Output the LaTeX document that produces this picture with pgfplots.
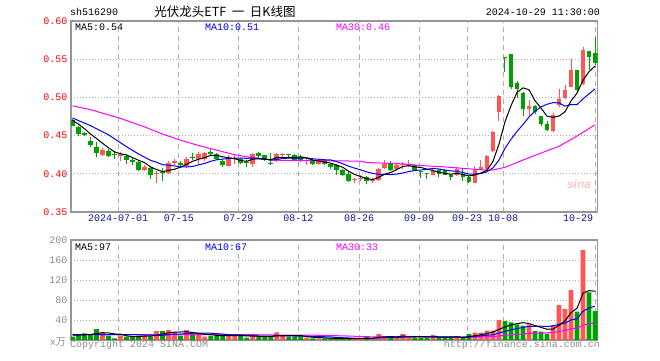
\documentclass[border=0pt]{standalone}
\usepackage{pgfplots}
\pgfplotsset{compat=1.18}
\usepackage{pgfplotstable}
\usepackage{fontspec}
\setmainfont{Liberation Mono}
\newfontfamily\mono{Liberation Mono}
\newfontfamily\cjk{Noto Sans CJK SC}
\newfontfamily\sans{Liberation Sans}
\definecolor{cred}{RGB}{255,85,85}
\definecolor{cgreen}{RGB}{0,160,0}
\definecolor{cmag}{RGB}{255,0,255}
\definecolor{cblue}{RGB}{0,0,255}
\definecolor{cgrid}{RGB}{175,175,175}
\definecolor{cframe}{RGB}{150,150,150}
\definecolor{clab}{RGB}{140,140,140}
\definecolor{cpred}{RGB}{255,0,0}
\definecolor{cdate}{RGB}{20,20,150}
\definecolor{cwm}{RGB}{250,200,200}

% i open high low close volume
\pgfplotstableread{
i o h l c v
5 0.4245 0.4333 0.4228 0.4316 15.3
8 0.4232 0.428 0.417 0.4259 8.7
12 0.4055 0.4117 0.4037 0.409 8.7
14 0.400 0.404 0.3877 0.4008 18
16 0.4017 0.4162 0.3995 0.4136 20
17 0.414 0.420 0.412 0.4167 15.3
19 0.4105 0.4223 0.4074 0.4193 20
21 0.419 0.428 0.412 0.4265 10
22 0.419 0.429 0.417 0.4277 6.7
26 0.4097 0.424 0.4097 0.421 10
27 0.4198 0.424 0.4123 0.421 8.7
30 0.4132 0.4272 0.4088 0.4255 8.7
34 0.4167 0.4272 0.4154 0.4263 15.3
35 0.4246 0.4277 0.421 0.4255 8.7
39 0.4167 0.4198 0.411 0.4176 4.7
41 0.4123 0.4198 0.411 0.4184 3.3
47 0.392 0.3947 0.3877 0.3925 2
48 0.3938 0.3978 0.3912 0.3947 3.3
50 0.3903 0.3943 0.3877 0.3925 3.3
51 0.3921 0.4079 0.3912 0.4066 12
52 0.4079 0.4184 0.4066 0.4132 6.7
54 0.4066 0.414 0.4035 0.411 4.7
55 0.411 0.4154 0.4066 0.4123 12
56 0.4101 0.4176 0.4088 0.411 6.7
60 0.3987 0.4079 0.3978 0.4035 10
64 0.3978 0.4088 0.3965 0.4066 6.7
67 0.3886 0.4097 0.3877 0.4053 14.7
68 0.4053 0.4184 0.4053 0.4084 14.7
69 0.4061 0.4246 0.4039 0.4237 18.7
70 0.4303 0.4566 0.429 0.4553 18.7
71 0.4807 0.5026 0.4697 0.5013 40
76 0.4851 0.4961 0.4741 0.4886 31.3
80 0.4566 0.4798 0.4544 0.4772 30
81 0.4895 0.5105 0.4873 0.4974 70
82 0.4991 0.5167 0.4982 0.5092 62
83 0.5136 0.5509 0.5136 0.5355 100
85 0.518 0.5662 0.5167 0.5618 180
}\redtab

\pgfplotstableread{
i o h l c v
0 0.4706 0.472 0.462 0.4632 6.7
1 0.461 0.462 0.449 0.452 11.3
2 0.4535 0.4545 0.449 0.451 13.3
3 0.4434 0.4487 0.4355 0.438 11.3
4 0.4355 0.441 0.4223 0.4267 22
6 0.430 0.4325 0.4215 0.4228 8.7
7 0.425 0.428 0.419 0.4245 3.3
9 0.4228 0.4258 0.4127 0.418 6.7
10 0.418 0.4215 0.411 0.415 6.7
11 0.416 0.418 0.404 0.405 8.7
13 0.4074 0.409 0.3938 0.398 6.7
15 0.402 0.4075 0.390 0.401 18
18 0.414 0.4162 0.408 0.4118 8.7
20 0.4223 0.4272 0.418 0.4206 11.3
23 0.4285 0.433 0.4228 0.4263 8.7
24 0.4255 0.4272 0.4176 0.4193 8.7
25 0.4167 0.419 0.4088 0.411 8.7
28 0.4189 0.4206 0.4123 0.4145 8.7
29 0.4154 0.4185 0.4088 0.414 4.7
31 0.4272 0.4285 0.421 0.4228 6.7
32 0.4241 0.4241 0.4167 0.4184 6.7
33 0.4128 0.4272 0.411 0.4123 6.7
36 0.4255 0.4263 0.421 0.4246 6.7
37 0.4241 0.4263 0.4176 0.4184 6.7
38 0.422 0.4241 0.4154 0.4167 6.7
40 0.4176 0.421 0.411 0.4123 3.3
42 0.4184 0.4198 0.411 0.4123 3.3
43 0.4123 0.4132 0.4066 0.4088 3.3
44 0.411 0.4123 0.3978 0.4044 3.3
45 0.4053 0.4066 0.3969 0.3987 3.3
46 0.400 0.4022 0.389 0.3912 2
49 0.3956 0.3965 0.3868 0.3912 6.7
53 0.414 0.4167 0.4035 0.4053 4.7
57 0.411 0.4123 0.4035 0.4053 4.7
58 0.4022 0.4035 0.3943 0.4018 4.7
59 0.4009 0.4009 0.3934 0.400 4.7
61 0.4044 0.4066 0.3956 0.3991 4.7
62 0.4044 0.4066 0.3978 0.3987 4.7
63 0.3978 0.400 0.392 0.3956 4.7
65 0.400 0.4066 0.3912 0.3958 4.7
66 0.3952 0.3974 0.3877 0.3895 12
72 0.5526 0.553 0.5333 0.552 38
73 0.5566 0.5566 0.5105 0.5136 35.3
74 0.5193 0.5211 0.4991 0.5105 31.3
75 0.5061 0.507 0.4763 0.4851 28.7
77 0.4886 0.4895 0.4785 0.4807 18
78 0.4754 0.4763 0.4632 0.4649 16.7
79 0.4649 0.4697 0.4566 0.4579 12.7
84 0.5355 0.5355 0.507 0.5092 56.7
86 0.5605 0.5605 0.5355 0.5531 95.3
87 0.5575 0.5794 0.543 0.5456 58
}\greentab

\pgfplotsset{
  skin/.style={
    scale only axis, width=526.5pt,
    xmin=-0.25, xmax=87.4,
    axis line style={draw=cframe, line width=1.2pt},
    tick style={draw=none},
    xmajorgrids, ymajorgrids,
    major x grid style={draw=cgrid, line width=1pt, dash pattern=on 5pt off 4pt},
    major y grid style={draw=cgrid, line width=1pt, dash pattern=on 1pt off 2pt},
    xtick={7.6,17.7,27.6,37.6,47.7,57.7,65.7,71.7,87},
    ticklabel style={font=\mono\fontsize{10}{12}\selectfont},
  },
  wick/.style={draw=none, mark=none, forget plot,
    error bars/.cd, y dir=plus, y explicit, error mark=none,
    error bar style={draw=#1, solid, line width=1pt}},
  body/.style={draw=none, mark=none, forget plot,
    error bars/.cd, y dir=plus, y explicit, error mark=none,
    error bar style={draw=#1, solid, line width=4.8pt}},
}

\begin{document}
\begin{tikzpicture}[x=1pt,y=1pt]
\path[use as bounding box] (0,0) rectangle (660,360);

% ---------- price panel ----------
\begin{axis}[skin,
  at={(71pt,148pt)}, anchor=south west, height=191pt,
  ymin=0.35, ymax=0.6,
  xticklabels={2024-07-01,07-15,07-29,08-12,08-26,09-09,09-23,10-08,{\hspace*{-34pt}10-29}},
  xticklabel style={text=cdate, yshift=1pt},
  ytick={0.35,0.40,0.45,0.50,0.55,0.60},
  yticklabels={0.35,0.40,0.45,0.50,0.55,0.60},
  yticklabel style={text=cpred},
]
% wicks
\addplot[wick=cred] table[x=i, y=l, y error plus expr=\thisrow{h}-\thisrow{l}] {\redtab};
\addplot[wick=cgreen] table[x=i, y=l, y error plus expr=\thisrow{h}-\thisrow{l}] {\greentab};
% bodies
\addplot[body=cred] table[x=i, y expr={min(\thisrow{o},\thisrow{c})}, y error plus expr={max(abs(\thisrow{c}-\thisrow{o}),0.0013)}] {\redtab};
\addplot[body=cgreen] table[x=i, y expr={min(\thisrow{o},\thisrow{c})}, y error plus expr={max(abs(\thisrow{c}-\thisrow{o}),0.0013)}] {\greentab};

% MA30
\addplot[cmag, line width=1pt] coordinates {
(0,0.489)(3,0.484)(8,0.4725)(12,0.4615)(15,0.452)(18,0.444)(21,0.437)(24,0.431)(27,0.425)(30,0.421)(33,0.418)(36,0.4175)(44,0.417)(48,0.4165)(49,0.4148)(55,0.413)(58,0.4108)(62,0.409)(66,0.4065)(69,0.4048)(70,0.405)(72,0.4085)(75,0.418)(78,0.4272)(81,0.436)(84,0.4495)(87,0.4642)};
% MA10
\addplot[cblue, line width=1pt] coordinates {
(0,0.473)(3,0.463)(6,0.451)(9,0.4354)(10,0.4306)(11,0.4259)(12,0.4217)(13,0.4177)(14,0.4151)(15,0.412)(16,0.4111)(17,0.4103)(18,0.4089)(19,0.409)(20,0.4096)(21,0.4117)(22,0.4136)(23,0.4164)(24,0.4183)(25,0.4193)(26,0.42)(27,0.4205)(28,0.4207)(29,0.4202)(30,0.4207)(31,0.4203)(32,0.4194)(33,0.418)(34,0.4187)(35,0.4201)(36,0.4205)(37,0.4202)(38,0.4205)(39,0.4208)(40,0.4195)(41,0.4191)(42,0.4184)(43,0.4181)(44,0.4159)(45,0.4132)(46,0.4099)(47,0.4073)(48,0.4051)(49,0.4025)(50,0.4005)(51,0.3993)(52,0.3994)(53,0.399)(54,0.3997)(55,0.4011)(56,0.403)(57,0.4043)(58,0.405)(59,0.4059)(60,0.407)(61,0.4063)(62,0.4048)(63,0.4038)(64,0.4034)(65,0.4017)(66,0.3996)(67,0.3996)(68,0.4003)(69,0.4026)(70,0.4078)(71,0.418)(72,0.4334)(73,0.4452)(74,0.4555)(75,0.4645)(76,0.4744)(77,0.4819)(78,0.4876)(79,0.491)(80,0.4932)(81,0.4928)(82,0.4885)(83,0.4907)(84,0.4906)(85,0.4982)(86,0.5047)(87,0.5112)};
% MA5
\addplot[black, line width=1pt] coordinates {
(0,0.470)(1,0.465)(2,0.459)(3,0.452)(4,0.4462)(5,0.4399)(6,0.434)(7,0.4287)(8,0.4263)(9,0.4246)(10,0.4212)(11,0.4177)(12,0.4146)(13,0.409)(14,0.4056)(15,0.4028)(16,0.4045)(17,0.406)(18,0.4088)(19,0.4125)(20,0.4164)(21,0.419)(22,0.4212)(23,0.4241)(24,0.4241)(25,0.4222)(26,0.4211)(27,0.4197)(28,0.4174)(29,0.4163)(30,0.4192)(31,0.4196)(32,0.419)(33,0.4186)(34,0.4211)(35,0.4211)(36,0.4214)(37,0.4214)(38,0.4223)(39,0.4206)(40,0.4179)(41,0.4167)(42,0.4155)(43,0.4139)(44,0.4112)(45,0.4085)(46,0.4031)(47,0.3991)(48,0.3963)(49,0.3937)(50,0.3924)(51,0.3955)(52,0.3996)(53,0.4018)(54,0.4057)(55,0.4097)(56,0.4106)(57,0.409)(58,0.4083)(59,0.4061)(60,0.4043)(61,0.4019)(62,0.4006)(63,0.3994)(64,0.4007)(65,0.3992)(66,0.3972)(67,0.3986)(68,0.4011)(69,0.4045)(70,0.4164)(71,0.4388)(72,0.4681)(73,0.4892)(74,0.5065)(75,0.5125)(76,0.51)(77,0.4957)(78,0.486)(79,0.4754)(80,0.4739)(81,0.4756)(82,0.4813)(83,0.4954)(84,0.5057)(85,0.5226)(86,0.5338)(87,0.541)};
\end{axis}

% ---------- volume panel ----------
\begin{axis}[skin,
  at={(71pt,20pt)}, anchor=south west, height=100pt,
  ymin=0, ymax=200,
  xticklabels={},
  ytick={40,80,120,160,200},
  yticklabels={40,80,120,160,200},
  yticklabel style={text=clab},
]
\addplot[ybar, bar width=4.8pt, bar shift=0pt, fill=cred, draw=none, forget plot] table[x=i, y=v] {\redtab};
\addplot[ybar, bar width=4.8pt, bar shift=0pt, fill=cgreen, draw=none, forget plot] table[x=i, y=v] {\greentab};
% MA30
\addplot[cmag, line width=1pt] coordinates {
(0,10.5)(10,10.6)(20,10.6)(29,10.8)(35,9.9)(40,9.7)(45,8.3)(50,6.3)(55,6.2)(60,5.9)(66,5.5)(70,7.0)(71,8.2)(72,9.3)(73,10.4)(74,11.3)(75,12.2)(76,13.2)(77,13.7)(78,14.2)(79,14.4)(80,15.2)(81,17.2)(82,19)(83,22.2)(84,23.9)(85,29.5)(86,32.3)(87,33.6)};
% MA10
\addplot[cblue, line width=1pt] coordinates {
(0,11)(8,11)(9,10.7)(10,10.7)(11,10.5)(12,10)(13,9.6)(14,9.2)(15,9.4)(16,10.6)(17,11.8)(18,11.8)(19,13.1)(20,13.5)(21,13.7)(22,13.5)(23,13.7)(24,12.7)(25,11.8)(26,10.8)(27,10.2)(28,10.2)(29,8.6)(30,8.4)(31,8)(32,8)(33,7.8)(34,8.5)(35,8.5)(36,8.2)(37,8)(38,7.8)(39,7.8)(40,7.2)(41,6.9)(42,6.5)(43,6.2)(44,5)(45,4.5)(46,4)(47,3.5)(48,3.2)(49,3.4)(50,3.4)(51,4.3)(52,4.6)(53,4.7)(54,4.9)(55,5.7)(56,6.2)(57,6.5)(58,6.6)(59,6.4)(60,7.1)(61,6.4)(62,6.2)(63,6.2)(64,6.4)(65,5.6)(66,6.2)(67,7.2)(68,8.2)(69,9.6)(70,10.4)(71,14)(72,17.3)(73,20.4)(74,22.8)(75,25.2)(76,27.1)(77,27.5)(78,27.7)(79,27.1)(80,28.2)(81,31.2)(82,33.6)(83,40.1)(84,42.6)(85,57.7)(86,64.1)(87,67.6)};
% MA5
\addplot[black, line width=1pt] coordinates {
(0,10)(1,10)(2,10.5)(3,11)(4,12.9)(5,14.6)(6,14.1)(7,12.1)(8,11.6)(9,8.5)(10,6.8)(11,6.8)(12,7.9)(13,7.5)(14,9.8)(15,12)(16,14.3)(17,15.6)(18,16)(19,16.4)(20,15.1)(21,13.1)(22,11.3)(23,11.3)(24,9.1)(25,8.6)(26,8.6)(27,9)(28,9)(29,8.2)(30,8.2)(31,7.5)(32,7.1)(33,6.7)(34,8.8)(35,8.8)(36,8.8)(37,8.8)(38,8.8)(39,6.7)(40,5.6)(41,4.9)(42,4.3)(43,3.6)(44,3.3)(45,3.3)(46,3)(47,2.8)(48,2.8)(49,3.5)(50,3.5)(51,5.5)(52,6.4)(53,6.7)(54,6.3)(55,8)(56,7)(57,6.6)(58,6.6)(59,6.6)(60,6.2)(61,5.8)(62,5.8)(63,5.8)(64,6.2)(65,5.1)(66,6.6)(67,8.6)(68,10.6)(69,13)(70,15.8)(71,21.4)(72,26)(73,30.1)(74,32.7)(75,34.7)(76,32.9)(77,28.9)(78,25.2)(79,21.5)(80,21.7)(81,29.5)(82,38.3)(83,54.9)(84,63.7)(85,93.7)(86,98.8)(87,97.5)};
\end{axis}

% ---------- texts ----------
\begin{scope}[font=\mono\fontsize{10}{12}\selectfont]
\node[anchor=west, inner sep=0] at (70,348) {sh516290};
\node[anchor=east, inner sep=0] at (600,348) {2024-10-29 11:30:00};
\node[anchor=west, inner sep=0] at (75,333) {MA5:0.54};
\node[anchor=west, inner sep=0, text=cblue] at (205,333) {MA10:0.51};
\node[anchor=west, inner sep=0, text=cmag] at (336,333) {MA30:0.46};
\node[anchor=west, inner sep=0] at (75,113) {MA5:97};
\node[anchor=west, inner sep=0, text=cblue] at (205,113) {MA10:67};
\node[anchor=west, inner sep=0, text=cmag] at (336,113) {MA30:33};
\node[anchor=east, inner sep=0, text=clab] at (66,18) {x{\cjk 万}};
\node[anchor=west, inner sep=0, text=clab] at (70,15) {Copyright 2024 SINA.COM};
\node[anchor=east, inner sep=0, text=clab] at (600,15) {http://finance.sina.com.cn};
\end{scope}
\node[inner sep=0, font=\cjk\fontsize{12.5}{15}\selectfont] at (225,348) {光伏龙头ETF\hspace{0.45em}一\hspace{0.45em}日K线图};
\node[inner sep=0, text=cwm, font=\sans\bfseries\itshape\fontsize{12}{12}\selectfont] at (579,176) {sina};
\end{tikzpicture}
\end{document}
